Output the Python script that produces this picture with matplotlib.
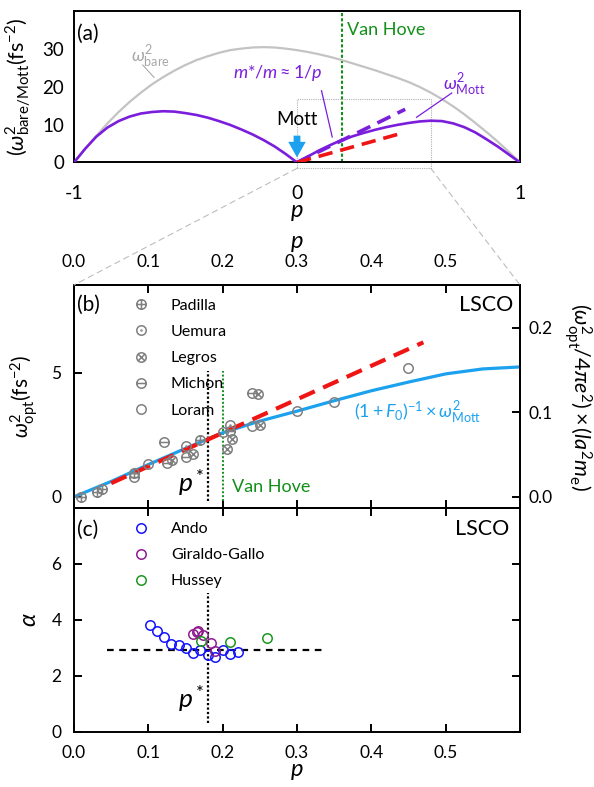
import numpy as np
import matplotlib
matplotlib.use("Agg")
import matplotlib.pyplot as plt
from matplotlib.path import Path
from matplotlib.patches import Rectangle, ConnectionPatch

plt.rcParams.update({
    "font.family": ["Lato", "DejaVu Sans"],
    "mathtext.fontset": "custom",
    "mathtext.rm": "Lato",
    "mathtext.it": "Lato:italic",
    "mathtext.bf": "Lato:bold",
    "axes.linewidth": 1.4,
})

PURPLE = "#7A1EDC"
RED = "#F01515"
SKY = "#1BA1EE"
GREEN = "#12901A"
GREY = "#808080"

# ---- (a) bare and Mott-limited Drude weight across the band
P_A = [-1.0, -0.95, -0.9, -0.85, -0.8, -0.75, -0.7, -0.65, -0.6, -0.55, -0.5,
       -0.45, -0.4, -0.35, -0.3, -0.25, -0.2, -0.15, -0.1, -0.05, 0.0,
       0.05, 0.1, 0.15, 0.2, 0.25, 0.3, 0.35, 0.4, 0.45, 0.5,
       0.55, 0.6, 0.65, 0.7, 0.75, 0.8, 0.85, 0.9, 0.95, 1.0]
W_BARE = [0.0, 3.6, 7.0, 10.3, 13.3, 16.0, 18.4, 20.6, 22.5, 24.2, 25.7,
          27.0, 28.0, 28.9, 29.6, 30.0, 30.3, 30.4, 30.3, 30.0, 29.6,
          29.1, 28.5, 27.8, 27.0, 26.1, 25.2, 24.3, 23.3, 22.3, 21.2,
          19.9, 18.4, 16.7, 14.8, 12.7, 10.4, 8.0, 5.5, 2.8, 0.0]
W_MOTT = [0.0, 3.6, 6.8, 9.2, 10.9, 12.1, 12.9, 13.3, 13.5, 13.4, 13.0,
          12.5, 11.8, 10.9, 9.9, 8.7, 7.4, 5.9, 4.2, 2.2, 0.0,
          1.6, 3.2, 4.6, 5.9, 6.9, 7.8, 8.6, 9.3, 9.9, 10.4,
          10.8, 11.0, 10.9, 10.3, 9.3, 7.9, 6.1, 4.2, 2.1, 0.0]
# low-doping asymptotes (endpoints)
P_SLOPE_MOTT = [0.0, 0.485]
W_SLOPE_MOTT = [0.0, 14.0]
P_SLOPE_RED = [0.0, 0.476]
W_SLOPE_RED = [0.0, 7.8]
P_VANHOVE = 0.2
P_STAR = 0.18

# ---- (b) LSCO optical spectral weight
PADILLA_P = [0.010, 0.031, 0.038, 0.081, 0.170]
PADILLA_W = [0.00, 0.18, 0.31, 0.97, 2.29]
UEMURA_P = [0.100, 0.151, 0.210]
UEMURA_W = [1.31, 2.04, 2.89]
LEGROS_P = [0.132, 0.160, 0.206, 0.213, 0.247, 0.250]
LEGROS_W = [1.48, 1.72, 1.92, 2.31, 4.14, 2.89]
MICHON_P = [0.081, 0.121, 0.125, 0.151, 0.210, 0.240]
MICHON_W = [0.81, 2.19, 1.38, 1.59, 2.65, 4.17]
LORAM_P = [0.200, 0.240, 0.300, 0.350, 0.450]
LORAM_W = [2.63, 2.86, 3.46, 3.83, 5.18]

P_FIT = [0.0, 0.05, 0.1, 0.15, 0.2, 0.25, 0.3, 0.35, 0.4, 0.45, 0.5, 0.55, 0.6]
W_FIT = [0.0, 0.62, 1.30, 1.95, 2.58, 3.05, 3.45, 3.87, 4.27, 4.62, 4.95, 5.15, 5.23]
P_LIN = [0.05, 0.47]
W_LIN = [0.55, 6.22]
W_TO_RIGHT = 0.0294   # fs^-2 -> dimensionless right-hand scale

# ---- (c) LSCO T-linear slope
ANDO_P = [0.102, 0.111, 0.121, 0.130, 0.141, 0.151, 0.160, 0.170, 0.180, 0.190,
          0.200, 0.210, 0.220]
ANDO_A = [3.82, 3.58, 3.40, 3.14, 3.08, 3.00, 2.80, 2.92, 2.74, 2.66,
          2.92, 2.78, 2.84]
GG_P = [0.160, 0.165, 0.167, 0.174, 0.184, 0.190]
GG_A = [3.50, 3.57, 3.60, 3.46, 3.16, 2.88]
HUSSEY_P = [0.171, 0.210, 0.260]
HUSSEY_A = [3.25, 3.22, 3.34]
ALPHA_FLAT = 2.93


def ring(inner=None):
    circ = Path.unit_circle()
    return circ if inner is None else Path.make_compound_path(circ, inner)


MV, LT = Path.MOVETO, Path.LINETO
PLUS = Path([[-1, 0], [1, 0], [0, -1], [0, 1]], [MV, LT, MV, LT])
d = 0.7
CROSS = Path([[-d, -d], [d, d], [-d, d], [d, -d]], [MV, LT, MV, LT])
BAR = Path([[-1, 0], [1, 0]], [MV, LT])
DOT = Path.circle((0, 0), 0.1)

fig = plt.figure(figsize=(5.94, 7.87), dpi=100)
ax_a = fig.add_axes([0.1246, 0.7936, 0.7508, 0.1928])
ax_b = fig.add_axes([0.1246, 0.3545, 0.7508, 0.2834])
ax_c = fig.add_axes([0.1246, 0.0705, 0.7508, 0.2840])

# ---------------- (a)
ax_a.plot(P_A, W_BARE, color="#C3C3C3", lw=1.6, zorder=2)
ax_a.plot(P_A, W_MOTT, color=PURPLE, lw=1.9, zorder=3)
ax_a.plot(P_SLOPE_MOTT, W_SLOPE_MOTT, color=PURPLE, lw=2.6, ls=(0, (4, 2.2)), zorder=4)
ax_a.plot(P_SLOPE_RED, W_SLOPE_RED, color=RED, lw=2.6, ls=(0, (4, 2.2)), zorder=4)
ax_a.plot([P_VANHOVE, P_VANHOVE], [0, 40], color=GREEN, lw=1.5, ls=(0, (1.5, 1)), zorder=1)
ax_a.set_xlim(-1, 1)
ax_a.set_ylim(0, 40)
ax_a.set_xticks([-1, 0, 1], ["-1", "0", "1"])
ax_a.set_yticks([0, 10, 20, 30])
ax_a.tick_params(axis="x", length=0, labelsize=14, pad=16)
ax_a.tick_params(axis="y", length=0, labelsize=13.5, pad=7)
ax_a.set_xlabel("$p$", fontsize=17, labelpad=0)
ax_a.set_ylabel(r"$(\omega^2_{\rm bare/Mott}(\rm fs^{-2})$", fontsize=15.5, labelpad=6)
ax_a.text(-0.985, 33.8, "(a)", fontsize=15, va="center")
ax_a.text(0.226, 34.8, "Van Hove", color=GREEN, fontsize=13, va="center")
ax_a.text(-0.745, 27.9, r"$\omega^2_{\rm bare}$", color="#A8A8A8", fontsize=13, va="center")
ax_a.plot([-0.692, -0.641], [25.7, 22.4], color="#A0A0A0", lw=0.7)
ax_a.text(-0.085, 23.5, r"$m$*/$m\approx 1/p$", color=PURPLE, fontsize=13,
          ha="center", va="center")
ax_a.plot([0.11, 0.158], [18.9, 6.7], color=PURPLE, lw=0.9)
ax_a.text(0.655, 20.5, r"$\omega^2_{\rm Mott}$", color=PURPLE, fontsize=13, va="center")
ax_a.plot([0.694, 0.536], [18.3, 11.9], color=PURPLE, lw=0.9)
ax_a.text(0.0, 11.2, "Mott", fontsize=13.5, ha="center", va="center")
ax_a.annotate("", xy=(0.0, 0.6), xytext=(0.0, 7.8),
              arrowprops=dict(arrowstyle="simple,head_width=0.9,head_length=0.8,tail_width=0.35",
                              color=SKY, lw=0, mutation_scale=14))
ax_a.add_patch(Rectangle((0.0, -1.56), 0.6, 18.36, fill=False, ec="#B0B0B0",
                         lw=0.8, ls=(0, (1, 1)), clip_on=False, zorder=1))

# ---------------- (b)
cfg = dict(ls="none", ms=6.8, mfc="none", mec=GREY, mew=1.1, zorder=5)
hb = []
hb += ax_b.plot(PADILLA_P, PADILLA_W, marker=ring(PLUS), label="Padilla", **cfg)
hb += ax_b.plot(UEMURA_P, UEMURA_W, marker=ring(DOT), label="Uemura", **cfg)
hb += ax_b.plot(LEGROS_P, LEGROS_W, marker=ring(CROSS), label="Legros", **cfg)
hb += ax_b.plot(MICHON_P, MICHON_W, marker=ring(BAR), label="Michon", **cfg)
hb += ax_b.plot(LORAM_P, LORAM_W, marker=ring(), label="Loram", **cfg)
ax_b.plot(P_FIT, W_FIT, color=SKY, lw=2.3, zorder=3)
ax_b.plot(P_LIN, W_LIN, color=RED, lw=3.0, ls=(0, (4, 2.2)), zorder=4)
ax_b.plot([P_STAR, P_STAR], [-0.15, 5.05], color="k", lw=1.6, ls=(0, (1, 1)), zorder=2)
ax_b.plot([P_VANHOVE, P_VANHOVE], [-0.15, 5.05], color=GREEN, lw=1.4, ls=(0, (1, 1)), zorder=2)
ax_b.set_xlim(0, 0.6)
ax_b.set_ylim(-0.45, 8.53)
ax_b.set_xticks([0, 0.1, 0.2, 0.3, 0.4, 0.5])
ax_b.set_yticks([0, 5])
ax_b.xaxis.set_label_position("top")
ax_b.tick_params(direction="in", length=6, width=1.4, labelsize=12.5,
                 top=True, bottom=True, labeltop=True, labelbottom=False, right=False)
ax_b.tick_params(axis="x", pad=11)
ax_b.tick_params(axis="y", pad=9)
ax_b.set_xlabel("$p$", fontsize=17, labelpad=4)
ax_b.set_ylabel(r"$\omega^2_{\rm opt}(\rm fs^{-2})$", fontsize=15, labelpad=8)
axr = ax_b.twinx()
axr.set_ylim(-0.45 * W_TO_RIGHT, 8.53 * W_TO_RIGHT)
axr.set_yticks([0.0, 0.1, 0.2], ["0.0", "0.1", "0.2"])
axr.tick_params(direction="in", length=6, width=1.4, labelsize=12.5, pad=6)
axr.set_ylabel(r"$(\omega^2_{\rm opt}/4\pi e^2)\times(la^2 m_{\rm e})$", fontsize=15.5,
               rotation=270, labelpad=30)
ax_b.text(0.006, 0.91, "(b)", transform=ax_b.transAxes, fontsize=15, va="center")
ax_b.text(0.985, 0.91, "LSCO", transform=ax_b.transAxes, fontsize=15.5, ha="right", va="center")
ax_b.text(0.158, 0.6, r"$p^*$", fontsize=19, ha="center", va="center")
ax_b.text(0.212, 0.4, "Van Hove", color=GREEN, fontsize=13, va="center")
ax_b.text(0.377, 3.4, r"$(1+F_0)^{-1}\times\omega^2_{\rm Mott}$", color=SKY, fontsize=13,
          va="center")
ax_b.legend(handles=hb, loc="upper left", bbox_to_anchor=(0.133, 0.94), frameon=False,
            fontsize=11.5, handlelength=1.0, handletextpad=1.35, labelspacing=0.76,
            borderpad=0, borderaxespad=0)

# ---------------- (c)
cfg_c = dict(ls="none", marker="o", ms=6.8, mfc="none", mew=1.1, zorder=5)
hc = []
hc += ax_c.plot(ANDO_P, ANDO_A, mec="#1414FF", label="Ando", **cfg_c)
hc += ax_c.plot(GG_P, GG_A, mec="#8E1A8E", label="Giraldo-Gallo", **cfg_c)
hc += ax_c.plot(HUSSEY_P, HUSSEY_A, mec="#1E961E", label="Hussey", **cfg_c)
ax_c.plot([0.045, 0.337], [ALPHA_FLAT, ALPHA_FLAT], color="k", lw=1.6, ls=(0, (3, 2.5)), zorder=2)
ax_c.plot([P_STAR, P_STAR], [0.3, 4.95], color="k", lw=1.6, ls=(0, (1, 1)), zorder=2)
ax_c.set_xlim(0, 0.6)
ax_c.set_ylim(0, 8)
ax_c.set_xticks([0, 0.1, 0.2, 0.3, 0.4, 0.5])
ax_c.set_yticks([0, 2, 4, 6])
ax_c.tick_params(direction="in", length=6, width=1.4, labelsize=12.5, top=True, right=True)
ax_c.tick_params(axis="x", pad=10)
ax_c.tick_params(axis="y", pad=9)
ax_c.set_xlabel("$p$", fontsize=17, labelpad=0)
ax_c.set_ylabel(r"$\alpha$", fontsize=17, labelpad=8)
ax_c.text(0.006, 0.904, "(c)", transform=ax_c.transAxes, fontsize=15, va="center")
ax_c.text(0.975, 0.906, "LSCO", transform=ax_c.transAxes, fontsize=15.5, ha="right", va="center")
ax_c.text(0.158, 1.2, r"$p^*$", fontsize=19, ha="center", va="center")
ax_c.legend(handles=hc, loc="upper left", bbox_to_anchor=(0.133, 0.936), frameon=False,
            fontsize=11.5, handlelength=1.0, handletextpad=1.35, labelspacing=0.74,
            borderpad=0, borderaxespad=0)

# zoom guides from (a) onto (b)
for xa, xb in ((0.0, 0.0), (0.6, 1.0)):
    con = ConnectionPatch(xyA=(xa, -1.56), coordsA=ax_a.transData,
                          xyB=(xb, 1.0), coordsB=ax_b.transAxes,
                          color="#BDBDBD", lw=0.8, ls=(0, (5, 4)))
    fig.add_artist(con)

fig.savefig("out.png", dpi=100)
